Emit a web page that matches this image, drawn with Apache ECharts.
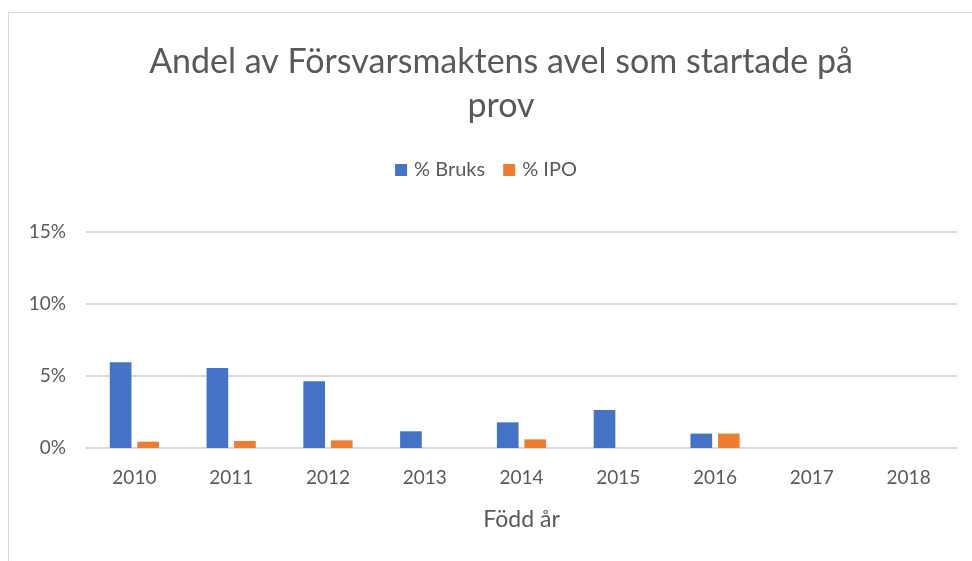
<!DOCTYPE html>
<html>
<head>
<meta charset="utf-8">
<script src="https://cdn.jsdelivr.net/npm/echarts@6/dist/echarts.min.js"></script>
<style>
  html, body { margin: 0; padding: 0; background: #fff; }
  #frame {
    position: absolute; left: 8px; top: 12px; width: 980px; height: 560px;
    border-left: 1px solid #d9d9d9; border-top: 1px solid #d9d9d9;
  }
  #chart { position: absolute; left: 0; top: 0; width: 972px; height: 561px; }
</style>
</head>
<body>
<div id="frame"></div>
<div id="chart"></div>
<script>
// Född år
const years = ['2010', '2011', '2012', '2013', '2014', '2015', '2016', '2017', '2018']
// andel i procent
const bruks = [5.95, 5.56, 4.63, 1.16, 1.78, 2.64, 1.0, 0, 0]
const ipo = [0.44, 0.49, 0.53, 0, 0.6, 0, 1.0, 0, 0]
const yTicks = [0, 5, 10, 15]

const font = 'Lato, "Open Sans", sans-serif'
const textColor = '#595959'

let myChart = echarts.init(document.getElementById('chart'))
let option = {
  textStyle: { fontFamily: font },
  title: {
    text: 'Andel av Försvarsmaktens avel som startade på\nprov',
    left: 496,
    textAlign: 'center',
    top: 35,
    textStyle: {
      fontFamily: font,
      fontSize: 34,
      fontWeight: 'normal',
      color: textColor,
      lineHeight: 44
    }
  },
  legend: {
    data: ['% Bruks', '% IPO'],
    top: 155,
    left: 'center',
    itemWidth: 12,
    itemHeight: 12,
    itemGap: 18,
    icon: 'rect',
    textStyle: { fontFamily: font, fontSize: 20, color: textColor, padding: [0, 0, 0, 2] }
  },
  grid: {
    left: 86,
    right: 15,
    top: 232,
    bottom: 113,
    containLabel: false
  },
  xAxis: {
    type: 'category',
    data: years,
    name: 'Född år',
    nameLocation: 'middle',
    nameGap: 60,
    nameTextStyle: { fontFamily: font, fontSize: 23, color: textColor },
    axisLine: { lineStyle: { color: '#d9d9d9', width: 2 } },
    axisTick: { show: false },
    axisLabel: { fontFamily: font, fontSize: 19, color: textColor, margin: 20 }
  },
  yAxis: {
    type: 'value',
    min: yTicks[0],
    max: yTicks[yTicks.length - 1],
    interval: 5,
    axisLine: { show: false },
    axisTick: { show: false },
    splitLine: { lineStyle: { color: '#d9d9d9', width: 2 } },
    axisLabel: {
      fontFamily: font,
      fontSize: 19,
      color: textColor,
      margin: 20,
      formatter: v => v + '%'
    }
  },
  series: [
    {
      name: '% Bruks',
      type: 'bar',
      data: bruks,
      barWidth: '22.4%',
      barGap: '27%',
      itemStyle: { color: '#4472c4' }
    },
    {
      name: '% IPO',
      type: 'bar',
      data: ipo,
      barWidth: '22.4%',
      itemStyle: { color: '#ed7d31' }
    }
  ]
}
myChart.setOption(option)
</script>
</body>
</html>
